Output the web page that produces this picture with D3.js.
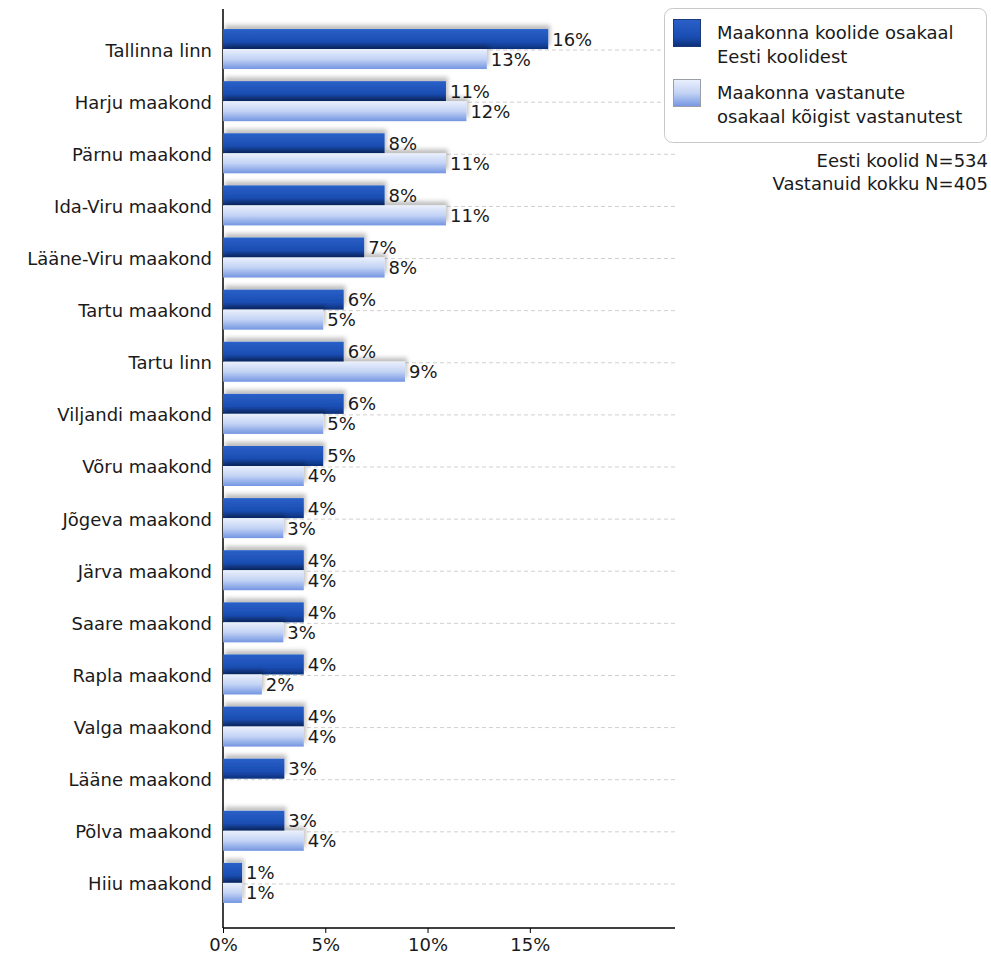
<!DOCTYPE html>
<html>
<head>
<meta charset="utf-8">
<script src="https://cdn.jsdelivr.net/npm/d3@7"></script>
<style>
  body { margin: 0; background: #fff; }
  text { font-family: "DejaVu Sans", Verdana, sans-serif; fill: #1a1a1a; }
</style>
</head>
<body>
<script>
// categories, top to bottom
var counties = ["Tallinna linn", "Harju maakond", "Pärnu maakond", "Ida-Viru maakond",
    "Lääne-Viru maakond", "Tartu maakond", "Tartu linn", "Viljandi maakond", "Võru maakond",
    "Jõgeva maakond", "Järva maakond", "Saare maakond", "Rapla maakond", "Valga maakond",
    "Lääne maakond", "Põlva maakond", "Hiiu maakond"];

// % of schools per county (dark) and % of respondents per county (light)
var schoolShare = [15.9, 10.9, 7.9, 7.9, 6.9, 5.9, 5.9, 5.9, 4.9, 3.95, 3.95, 3.95, 3.95, 3.95, 3.0, 3.0, 0.93];
var respShare   = [12.9, 11.9, 10.9, 10.9, 7.9, 4.9, 8.9, 4.9, 3.95, 2.95, 3.95, 2.95, 1.9, 3.95, null, 3.95, 0.93];

var seriesNames = ["Maakonna koolide osakaal|Eesti koolidest",
    "Maakonna vastanute|osakaal kõigist vastanutest"];
var notes = ["Eesti koolid N=534", "Vastanuid kokku N=405"];
var xTicks = [0, 5, 10, 15];

var width = 991, height = 956;
var axisLeft = 223, axisRight = 673, axisBottom = 928;

var svg = d3.select("body")
    .append("svg")
        .attr("width", width)
        .attr("height", height);

var defs = svg.append("defs");

function grad(id, stops) {
    var g = defs.append("linearGradient")
        .attr("id", id)
        .attr("x1", 0).attr("y1", 0)
        .attr("x2", 0).attr("y2", 1);
    stops.forEach(function(s) {
        g.append("stop").attr("offset", s[0]).attr("stop-color", s[1]);
    });
}
grad("gDark", [["0%", "#2a60c8"], ["65%", "#1a4db2"], ["100%", "#0d3079"]]);
grad("gLight", [["0%", "#eaf0fc"], ["50%", "#c3d3f5"], ["100%", "#7395e1"]]);

var shadow = defs.append("filter")
    .attr("id", "shadow")
    .attr("x", "-10%").attr("y", "-50%")
    .attr("width", "130%").attr("height", "200%");
shadow.append("feDropShadow")
    .attr("dx", 2).attr("dy", -4)
    .attr("stdDeviation", 2)
    .attr("flood-color", "#000")
    .attr("flood-opacity", 0.25);

var x = d3.scaleLinear()
    .domain([0, 22])
    .range([axisLeft, axisRight]);

var y = d3.scaleBand()
    .domain(counties)
    .range([24, 910]);

// sub-band for the two series inside one category
var sub = d3.scaleBand()
    .domain([0, 1])
    .range([-21, 19]);

// dashed gridlines at category centres
svg.append("g")
    .selectAll("line")
    .data(counties)
    .join("line")
        .attr("x1", axisLeft)
        .attr("x2", axisRight + 2)
        .attr("y1", function(d) { return y(d) + y.bandwidth() / 2; })
        .attr("y2", function(d) { return y(d) + y.bandwidth() / 2; })
        .style("stroke", "#d0d0d0")
        .style("stroke-dasharray", "4,3");

// y axis line
svg.append("line")
    .attr("x1", axisLeft).attr("x2", axisLeft)
    .attr("y1", 9).attr("y2", axisBottom)
    .style("stroke", "#000")
    .style("stroke-width", 1.5);

var rows = counties.map(function(c, i) {
    return {county: c, vals: [schoolShare[i], respShare[i]]};
});

var fills = ["url(#gDark)", "url(#gLight)"];

var group = svg.append("g")
    .selectAll("g")
    .data(rows)
    .join("g")
        .attr("transform", function(d) {
            return "translate(0," + (y(d.county) + y.bandwidth() / 2) + ")";
        });

var cells = group.selectAll("g")
    .data(function(d) {
        return d.vals.map(function(v, k) { return {v: v, k: k}; })
            .filter(function(e) { return e.v != null; });
    })
    .join("g");

cells.append("rect")
    .attr("x", x(0))
    .attr("y", function(d) { return sub(d.k); })
    .attr("width", function(d) { return x(d.v) - x(0); })
    .attr("height", sub.bandwidth())
    .attr("fill", function(d) { return fills[d.k]; })
    .attr("filter", "url(#shadow)");

cells.append("text")
    .attr("x", function(d) { return x(d.v) + 4; })
    .attr("y", function(d) { return sub(d.k) + sub.bandwidth() / 2; })
    .attr("dy", "0.36em")
    .attr("font-size", "18px")
    .text(function(d) { return d3.format(".0%")(d.v / 100); });

// category labels
svg.append("g")
    .selectAll("text")
    .data(counties)
    .join("text")
        .attr("x", 212)
        .attr("y", function(d) { return y(d) + y.bandwidth() / 2; })
        .attr("dy", "0.36em")
        .attr("text-anchor", "end")
        .attr("font-size", "18px")
        .text(function(d) { return d; });

// x axis
var xAxis = svg.append("g")
    .attr("transform", "translate(0," + axisBottom + ")")
    .call(d3.axisBottom(x)
        .tickValues(xTicks)
        .tickSize(5)
        .tickSizeOuter(0)
        .tickPadding(5)
        .tickFormat(function(d) { return d + "%"; }));

xAxis.select(".domain")
    .attr("d", "M" + axisLeft + ",0H" + (axisRight + 2))
    .style("stroke", "#000")
    .style("stroke-width", 1.5);
xAxis.selectAll(".tick line").style("stroke", "#000");
xAxis.selectAll(".tick text")
    .attr("font-family", "DejaVu Sans, Verdana, sans-serif")
    .attr("font-size", "18px")
    .attr("fill", "#1a1a1a");

// legend
var legend = svg.append("g");

legend.append("rect")
    .attr("x", 664.5).attr("y", 8.5)
    .attr("width", 322).attr("height", 134)
    .attr("rx", 8)
    .style("fill", "#fff")
    .style("stroke", "#c8c8c8");

var legendTop = [19, 79];
var swatchStroke = ["#1a3a78", "#9a9ea8"];

seriesNames.forEach(function(name, k) {
    legend.append("rect")
        .attr("x", 673.5).attr("y", legendTop[k] + 0.5)
        .attr("width", 27).attr("height", 27)
        .attr("fill", fills[k])
        .style("stroke", swatchStroke[k]);

    name.split("|").forEach(function(line, j) {
        legend.append("text")
            .attr("x", 717)
            .attr("y", legendTop[k] + 20 + j * 24)
            .attr("font-size", "18px")
            .text(line);
    });
});

notes.forEach(function(n, i) {
    svg.append("text")
        .attr("x", 988)
        .attr("y", 167 + i * 23)
        .attr("text-anchor", "end")
        .attr("font-size", "18px")
        .text(n);
});
</script>
</body>
</html>
